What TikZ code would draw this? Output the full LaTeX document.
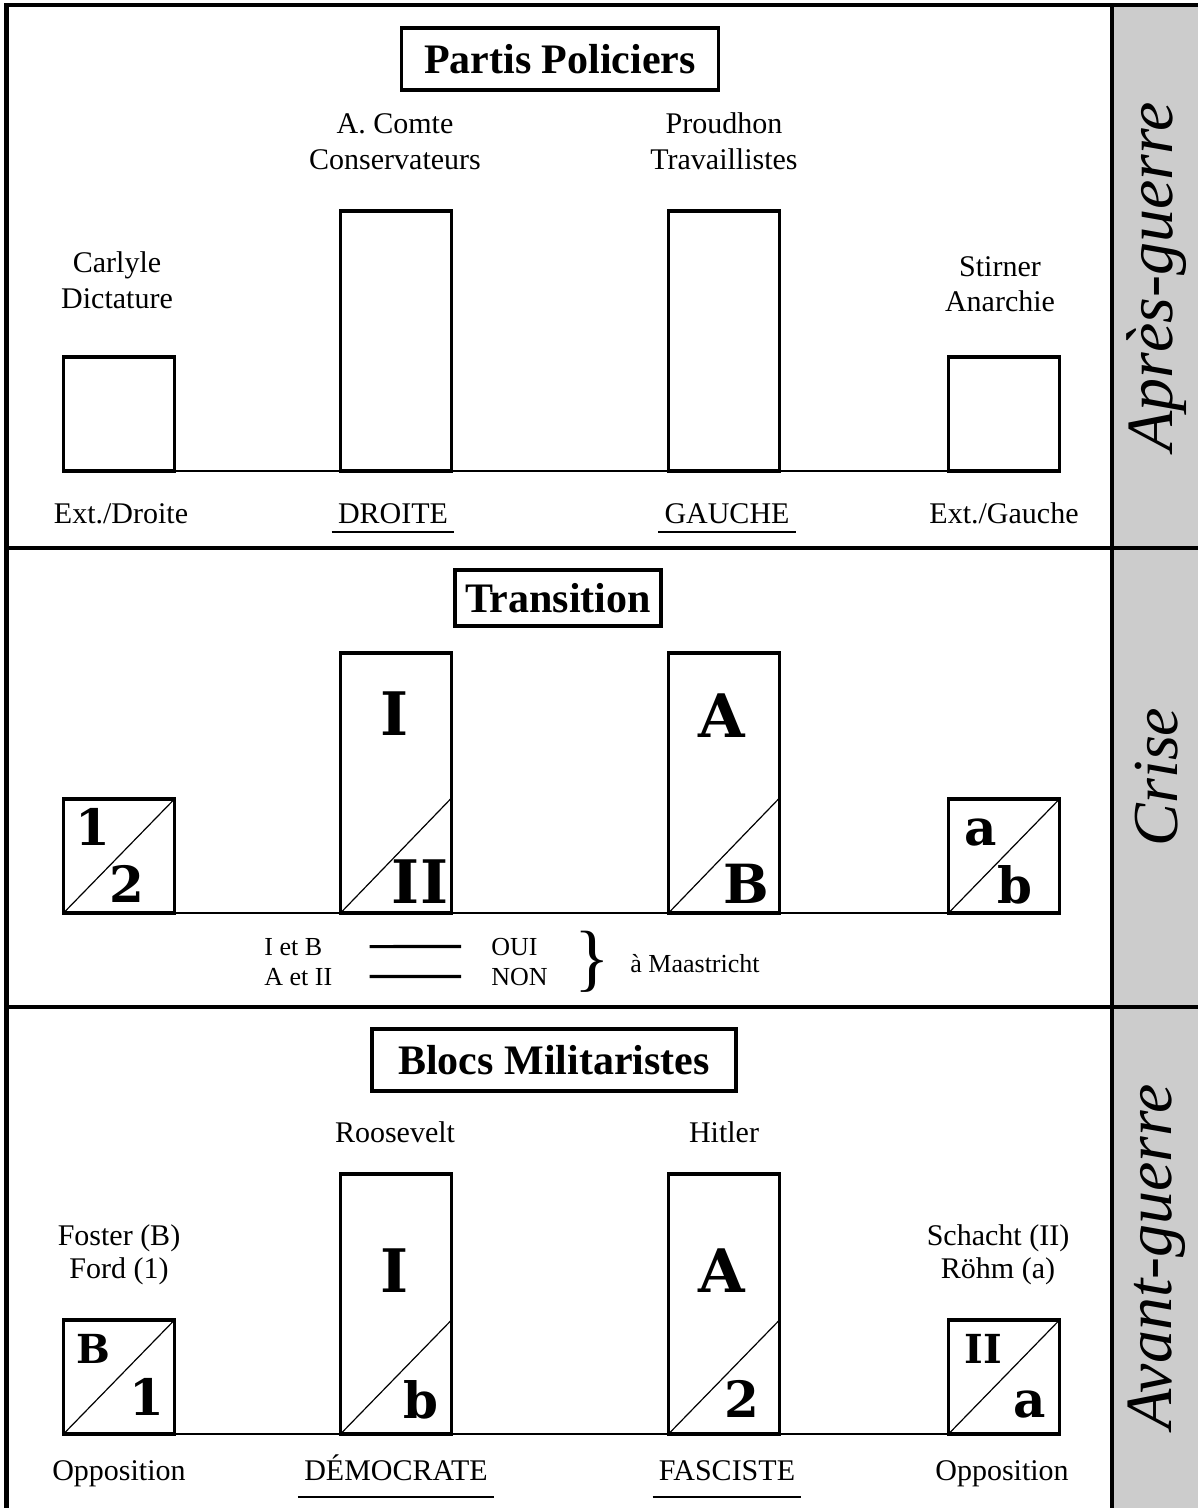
\documentclass[tikz,border=0pt]{standalone}
\usepackage{fontspec}
\setmainfont{Liberation Serif}
\newfontfamily\lettre{DejaVu Serif}
\definecolor{colgris}{RGB}{204,204,204}

\begin{document}
\begin{tikzpicture}[x=0.5pt, y=-0.5pt,
		cadre/.style={line width=2.2pt},
		barre/.style={draw, line width=1.8pt, minimum width=55.5pt, inner sep=0pt, outer sep=0pt, anchor=south},
		petite/.style={barre, minimum height=57pt},
		haute/.style={barre, minimum height=130pt},
		sol/.style={line width=1pt},
		diag/.style={line width=0.6pt},
		titre/.style={draw, line width=1.8pt, font=\fontsize{21}{21}\selectfont\bfseries, inner sep=0pt, minimum height=31pt},
		nom/.style={font=\fontsize{15}{15}\selectfont, anchor=base, inner sep=0pt},
		souligne/.style={line width=1.4pt},
		gros/.style={font=\lettre\bfseries\fontsize{30}{30}\selectfont, anchor=base, inner sep=0pt},
		moyen/.style={font=\lettre\bfseries\fontsize{25}{25}\selectfont, anchor=base, inner sep=0pt},
		petit/.style={font=\lettre\bfseries\fontsize{20}{20}\selectfont, anchor=base, inner sep=0pt},
		periode/.style={rotate=90, font=\itshape\fontsize{33}{33}\selectfont, inner sep=0pt},
		legende/.style={font=\fontsize{13}{13}\selectfont, inner sep=0pt, anchor=base west},
		trait/.style={line width=1.6pt}]
	\useasboundingbox (0,0) rectangle (1198,1508);
	
	% cadre et colonne grise
	\fill[colgris] (1112,5) rectangle (1198,1508);
	\draw[cadre] (6.5,1508) -- (6.5,5) -- (1198,5);
	\draw[cadre] (6.5,548) -- (1198,548);
	\draw[cadre] (6.5,1007) -- (1198,1007);
	\draw[cadre] (1112,5) -- (1112,1508);
	
	\node[periode] (apres) at (1157,277) {Après-guerre};
	\node[periode, font=\itshape\fontsize{32}{32}\selectfont] (crise) at (1157,777) {Crise};
	\node[periode] (avant) at (1157,1257) {Avant-guerre};
	
	% Apres-guerre
	\node[titre, minimum width=158.5pt] (titreA) at (560,59) {Partis Policiers};
	
	\node[petite] (ed) at (119,471) {};
	\node[haute] (dr) at (396,471) {};
	\node[haute] (ga) at (724,471) {};
	\node[petite] (eg) at (1004,471) {};
	\draw[sol] (ed.south east) -- (eg.south west);
	
	\node[nom] (carlyle) at (117,273) {Carlyle};
	\node[nom] (dictature) at (117,309) {Dictature};
	\node[nom] (comte) at (395,134) {A. Comte};
	\node[nom] (conserv) at (395,170) {Conservateurs};
	\node[nom] (proudhon) at (724,134) {Proudhon};
	\node[nom] (travail) at (724,170) {Travaillistes};
	\node[nom] (stirner) at (1000,277) {Stirner};
	\node[nom] (anarchie) at (1000,312) {Anarchie};
	
	\node[nom] (extd) at (121,523) {Ext./Droite};
	\node[nom, inner xsep=3pt] (droite) at (393,523) {DROITE};
	\node[nom, inner xsep=3pt] (gauche) at (727,523) {GAUCHE};
	\node[nom] (extg) at (1004,523) {Ext./Gauche};
	\draw[souligne] ([yshift=-4.5pt]droite.base west) -- ([yshift=-4.5pt]droite.base east);
	\draw[souligne] ([yshift=-4.5pt]gauche.base west) -- ([yshift=-4.5pt]gauche.base east);
	
	% Crise
	\node[titre, minimum width=103pt, minimum height=28pt] (titreC) at (558,598) {Transition};
	
	\node[petite] (un) at (119,913) {};
	\node[haute] (ideux) at (396,913) {};
	\node[haute] (ab) at (724,913) {};
	\node[petite] (pa) at (1004,913) {};
	\draw[sol] (un.south east) -- (pa.south west);
	
	\draw[diag] (un.south west) -- (un.north east);
	\draw[diag] (ideux.south west) -- ([yshift=57.5pt]ideux.south east);
	\draw[diag] (ab.south west) -- ([yshift=57.5pt]ab.south east);
	\draw[diag] (pa.south west) -- (pa.north east);
	
	\node[moyen] (c1) at (93,845) {1};
	\node[moyen] (c2) at (127,902) {2};
	\node[gros] (cI) at (395,735) {I};
	\node[gros] (cII) at (420,903) {II};
	\node[gros] (cA) at (722,737) {A};
	\node[moyen, font=\lettre\bfseries\fontsize{27}{27}\selectfont] (cB) at (746,903) {B};
	\node[moyen] (ca) at (981,845) {a};
	\node[moyen] (cb) at (1015,903) {b};
	
	\node[legende] (ib) at (264,955) {I et B};
	\node[legende] (aii) at (264,985) {A et II};
	\node[legende] (oui) at (491,955) {OUI};
	\node[legende] (non) at (491,985) {NON};
	\draw[trait] ([xshift=23.5pt]ib.east) -- ([xshift=-15pt]oui.west);
	\draw[trait] ([xshift=18.5pt]aii.east) -- ([xshift=-15pt]non.west);
	\node[font=\fontsize{37}{37}\selectfont, inner sep=0pt] (accol) at (592,962) {\}};
	\node[legende] (maas) at (630,972) {à Maastricht};
	
	% Avant-guerre
	\node[titre, minimum width=182pt] (titreV) at (554,1060) {Blocs Militaristes};
	
	\node[petite] (opg) at (119,1434) {};
	\node[haute] (dem) at (396,1434) {};
	\node[haute] (fas) at (724,1434) {};
	\node[petite] (opd) at (1004,1434) {};
	\draw[sol] (opg.south east) -- (opd.south west);
	
	\draw[diag] (opg.south west) -- (opg.north east);
	\draw[diag] (dem.south west) -- ([yshift=57pt]dem.south east);
	\draw[diag] (fas.south west) -- ([yshift=57pt]fas.south east);
	\draw[diag] (opd.south west) -- (opd.north east);
	
	\node[petit] (vB) at (93,1363) {B};
	\node[moyen] (v1) at (147,1415) {1};
	\node[gros] (vI) at (395,1292) {I};
	\node[moyen] (vb) at (421,1418) {b};
	\node[gros] (vA) at (722,1292) {A};
	\node[moyen] (v2) at (742,1417) {2};
	\node[petit] (vII) at (983,1363) {II};
	\node[moyen] (va) at (1030,1417) {a};
	
	\node[nom] (roosevelt) at (395,1142) {Roosevelt};
	\node[nom] (hitler) at (724,1142) {Hitler};
	\node[nom] (foster) at (119,1245) {Foster (B)};
	\node[nom] (ford) at (119,1278) {Ford (1)};
	\node[nom] (schacht) at (998,1245) {Schacht (II)};
	\node[nom] (rohm) at (998,1278) {Röhm (a)};
	
	\node[nom] (oppg) at (119,1480) {Opposition};
	\node[nom, inner xsep=3pt] (democ) at (396,1480) {DÉMOCRATE};
	\node[nom, inner xsep=3pt] (fasc) at (727,1480) {FASCISTE};
	\node[nom] (oppd) at (1002,1480) {Opposition};
	\draw[souligne] ([yshift=-8.5pt]democ.base west) -- ([yshift=-8.5pt]democ.base east);
	\draw[souligne] ([yshift=-8.5pt]fasc.base west) -- ([yshift=-8.5pt]fasc.base east);
\end{tikzpicture}
\end{document}
